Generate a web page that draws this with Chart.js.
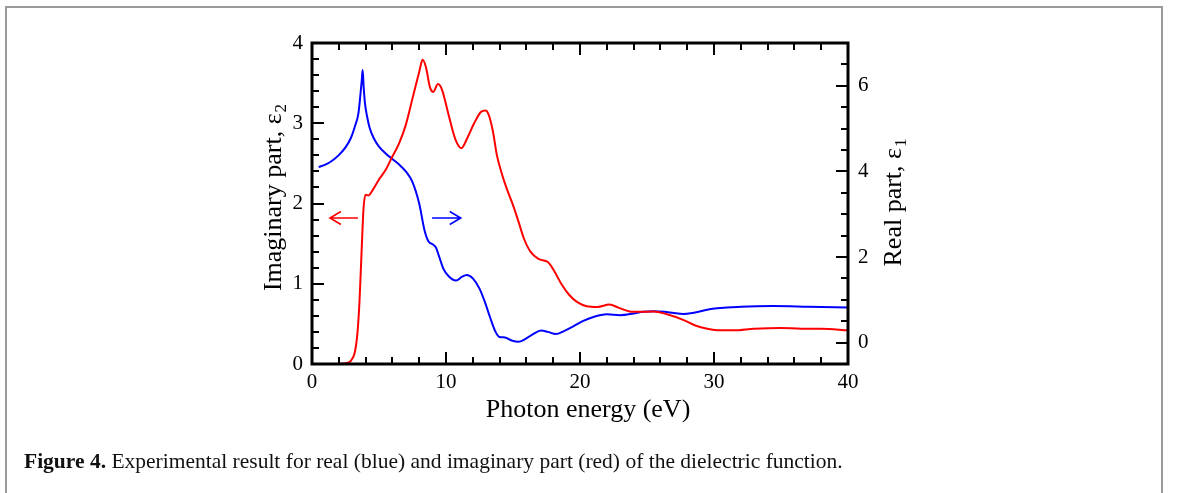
<!DOCTYPE html>
<html><head><meta charset="utf-8">
<script src="https://cdn.jsdelivr.net/npm/chart.js@4/dist/chart.umd.min.js"></script>
<style>
html,body{margin:0;padding:0;background:#fff;width:1179px;height:493px;overflow:hidden}
#frame{position:absolute;left:5px;top:6px;width:1158px;height:600px;border:2px solid #9a9a9a;box-sizing:border-box}
#wrap{position:absolute;left:0;top:0;width:1179px;height:493px}
#caption{position:absolute;left:24px;top:449px;font:21.5px 'Liberation Serif',serif;color:#111;white-space:nowrap}
</style></head><body>
<div id="frame"></div>
<div id="wrap"><canvas id="c" width="1179" height="493"></canvas></div>
<div id="caption"><b>Figure 4.</b> Experimental result for real (blue) and imaginary part (red) of the dielectric function.</div>
<script>
// ---- data ----
const energyRed = [0.5,1.5,2.5,2.9,3.2,3.4,3.55,3.7,3.85,4.0,4.2,4.5,5.0,5.5,5.95,6.5,7.0,7.5,8.0,8.25,8.5,8.8,9.05,9.4,9.7,10.2,10.7,11.15,11.6,12.1,12.6,12.95,13.2,13.5,13.8,14.15,14.5,15.0,15.4,15.8,16.3,16.9,17.6,18.0,18.6,19.2,19.8,20.5,21.3,22.2,22.9,23.7,24.5,25.5,26.5,27.7,28.6,29.5,30.5,31.5,33,35,36.5,38,40];
const eps2 = [0.0,0.0,0.01,0.04,0.15,0.4,0.8,1.4,1.95,2.11,2.1,2.16,2.3,2.42,2.57,2.75,2.98,3.31,3.64,3.79,3.7,3.45,3.39,3.49,3.42,3.1,2.8,2.69,2.82,3.0,3.14,3.16,3.1,2.9,2.6,2.38,2.2,1.98,1.78,1.57,1.4,1.31,1.27,1.18,1.0,0.86,0.77,0.72,0.71,0.74,0.7,0.655,0.65,0.655,0.62,0.55,0.48,0.44,0.42,0.42,0.44,0.45,0.44,0.44,0.42];
const energyBlue = [0.5,1.0,1.5,2.0,2.5,2.9,3.2,3.46,3.6,3.72,3.78,3.85,3.95,4.1,4.3,4.6,5.0,5.5,5.95,6.5,7.0,7.5,8.0,8.4,8.7,9.0,9.25,9.5,9.8,10.2,10.75,11.2,11.55,12.0,12.5,12.9,13.3,13.7,14.0,14.4,14.9,15.4,15.9,16.5,17.1,17.6,18.2,18.8,19.5,20.2,21.0,22.0,23.0,24.0,24.7,25.5,26.3,27.0,27.7,28.5,29.9,31,32,34.4,37,40];
const eps1 = [4.10,4.16,4.25,4.38,4.56,4.78,5.05,5.35,5.75,6.15,6.37,6.0,5.6,5.3,5.02,4.78,4.58,4.42,4.30,4.16,4.0,3.75,3.25,2.62,2.36,2.3,2.22,2.0,1.73,1.55,1.45,1.54,1.58,1.5,1.26,0.95,0.58,0.25,0.13,0.12,0.05,0.02,0.08,0.2,0.28,0.25,0.2,0.27,0.38,0.5,0.6,0.66,0.64,0.68,0.72,0.73,0.72,0.69,0.67,0.7,0.79,0.82,0.84,0.855,0.84,0.82];
const xTicks = [0,10,20,30,40];
const yLeftTicks = [0,1,2,3,4];
const yRightTicks = [0,2,4,6];
const xTitle = 'Photon energy (eV)';
const yLeftTitle = ['Imaginary part, ε', '2'];
const yRightTitle = ['Real part, ε', '1'];
// arrows: [x from, x to, y] in data units (tip at "to")
const redArrow = [3.43, 1.34, 1.82];
const blueArrow = [8.96, 11.1, 1.82];

const FONT = "'Liberation Serif', serif";
const minorStep = {x: 2, y: 0.2, y2: 0.5};

function fixTicks(vals){ return s => { s.ticks = vals.map(v => ({value: v})); }; }

const decor = {
  id: 'decor',
  afterDraw(chart){
    const ctx = chart.ctx, a = chart.chartArea;
    const sx = chart.scales.x, sy = chart.scales.y, sy2 = chart.scales.y2;
    ctx.save();
    ctx.strokeStyle = '#000';
    ctx.lineWidth = 2;
    ctx.beginPath();
    for (let v = sx.min; v <= sx.max + 1e-9; v += minorStep.x) {
      const px = Math.round(sx.getPixelForValue(v));
      const major = Math.abs(v % 10) < 1e-6;
      const L = major ? 12 : 7;
      ctx.moveTo(px, a.bottom); ctx.lineTo(px, a.bottom - L);
      ctx.moveTo(px, a.top); ctx.lineTo(px, a.top + L);
    }
    for (let v = sy.min; v <= sy.max + 1e-9; v += minorStep.y) {
      const py = Math.round(sy.getPixelForValue(v));
      const major = Math.abs(v - Math.round(v)) < 1e-6;
      const L = major ? 12 : 7;
      ctx.moveTo(a.left, py); ctx.lineTo(a.left + L, py);
    }
    for (let v = 0; v <= sy2.max + 1e-9; v += minorStep.y2) {
      const py = Math.round(sy2.getPixelForValue(v));
      const major = Math.abs(v % 2) < 1e-6;
      const L = major ? 12 : 7;
      ctx.moveTo(a.right, py); ctx.lineTo(a.right - L, py);
    }
    ctx.stroke();
    ctx.lineWidth = 3;
    ctx.strokeRect(a.left, a.top, a.right - a.left, a.bottom - a.top);

    function arrow(spec, color, scaleY){
      const x0 = sx.getPixelForValue(spec[0]), x1 = sx.getPixelForValue(spec[1]);
      const y = scaleY.getPixelForValue(spec[2]);
      const dir = Math.sign(x1 - x0);
      ctx.strokeStyle = color; ctx.lineWidth = 1.6;
      ctx.beginPath();
      ctx.moveTo(x0, y); ctx.lineTo(x1, y);
      ctx.moveTo(x1 - dir*11, y - 6.5); ctx.lineTo(x1, y); ctx.lineTo(x1 - dir*11, y + 6.5);
      ctx.stroke();
    }
    arrow(redArrow, '#ff0000', sy);
    arrow(blueArrow, '#0000ff', sy);

    ctx.fillStyle = '#000';
    ctx.textBaseline = 'alphabetic';
    function subTitle(parts, cx, cy, rot){
      ctx.save();
      ctx.translate(cx, cy); ctx.rotate(rot);
      ctx.font = '26px ' + FONT;
      const w1 = ctx.measureText(parts[0]).width;
      ctx.font = '17px ' + FONT;
      const w2 = ctx.measureText(parts[1]).width;
      const start = -(w1 + w2) / 2;
      ctx.font = '26px ' + FONT;
      ctx.textAlign = 'left';
      ctx.fillText(parts[0], start, 8);
      ctx.font = '17px ' + FONT;
      ctx.fillText(parts[1], start + w1 + 1, 13);
      ctx.restore();
    }
    subTitle(yLeftTitle, 273, 198, -Math.PI/2);
    subTitle(yRightTitle, 893, 203, -Math.PI/2);
    ctx.font = '26px ' + FONT;
    ctx.textAlign = 'center';
    ctx.fillText(xTitle, 588, 417);
    ctx.restore();
  }
};

new Chart(document.getElementById('c'), {
  type: 'line',
  data: {
    datasets: [
      {data: energyRed.map((e,i)=>({x:e, y:eps2[i]})), yAxisID:'y', borderColor:'#ff0000', borderWidth:2, pointRadius:0, cubicInterpolationMode:'monotone', fill:false},
      {data: energyBlue.map((e,i)=>({x:e, y:eps1[i]})), yAxisID:'y2', borderColor:'#0000ff', borderWidth:2, pointRadius:0, cubicInterpolationMode:'monotone', fill:false}
    ]
  },
  options: {
    responsive: false, animation: false, devicePixelRatio: 1,
    layout: {padding: {left: 252, right: 271, top: 43, bottom: 69}},
    plugins: {legend: {display: false}, tooltip: {enabled: false}},
    scales: {
      x: {type:'linear', min:0, max:40, afterBuildTicks: fixTicks(xTicks), afterFit: s => { s.height = 60; },
          grid:{display:false, drawTicks:false, tickLength:0}, border:{display:false},
          ticks:{font:{family:FONT, size:21}, color:'#000', padding:6, maxRotation:0}},
      y: {position:'left', min:0, max:4, afterBuildTicks: fixTicks(yLeftTicks), afterFit: s => { s.width = 60; },
          grid:{display:false, drawTicks:false, tickLength:0}, border:{display:false},
          ticks:{font:{family:FONT, size:21}, color:'#000', padding:9}},
      y2: {position:'right', min:-0.5, max:7, afterBuildTicks: fixTicks(yRightTicks), afterFit: s => { s.width = 60; },
          grid:{display:false, drawTicks:false, tickLength:0}, border:{display:false},
          ticks:{font:{family:FONT, size:21}, color:'#000', padding:10}}
    }
  },
  plugins: [decor]
});
</script>
</body></html>
